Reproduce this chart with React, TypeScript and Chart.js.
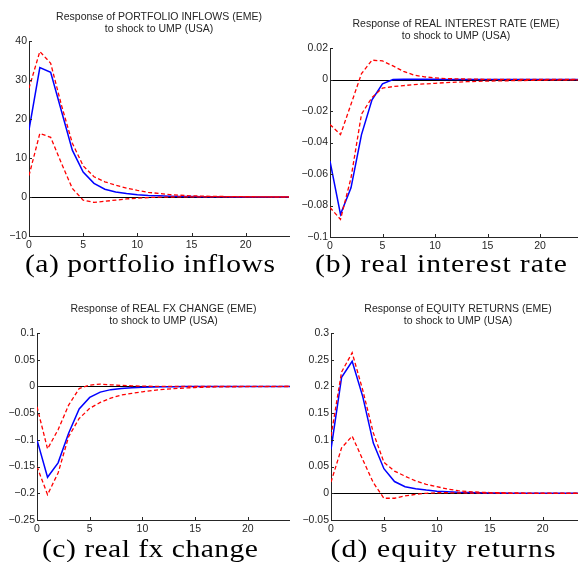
import { useEffect, useRef } from "react";
import { Chart, registerables } from "chart.js";

Chart.register(...registerables);

// Impulse-response horizon (periods after the shock)
const HORIZON = [0, 1, 2, 3, 4, 5, 6, 7, 8, 9, 10, 11, 12, 13, 14, 15, 16, 17, 18, 19, 20, 21, 22, 23, 24];
const X_TICKS = [0, 5, 10, 15, 20];

// (a) portfolio inflows
const INFLOWS_IRF = [17.2, 33.2, 32.0, 22.0, 12.0, 6.4, 3.5, 2.0, 1.3, 0.9, 0.6, 0.4, 0.3, 0.2, 0.15, 0.1, 0.07, 0.05, 0.04, 0.03, 0.02, 0.02, 0.01, 0.01, 0.01];
const INFLOWS_UPPER = [27.9, 37.3, 34.3, 23.5, 13.8, 8.0, 5.2, 3.9, 3.0, 2.3, 1.7, 1.2, 0.9, 0.6, 0.45, 0.3, 0.22, 0.16, 0.12, 0.09, 0.07, 0.05, 0.04, 0.03, 0.02];
const INFLOWS_LOWER = [5.5, 16.3, 15.3, 8.6, 2.2, -0.8, -1.4, -1.1, -0.8, -0.5, -0.3, -0.15, -0.05, 0, 0.02, 0.03, 0.03, 0.03, 0.02, 0.02, 0.01, 0.01, 0.01, 0, 0];
const INFLOWS_Y_TICKS = [-10, 0, 10, 20, 30, 40];

// (b) real interest rate
const RATE_IRF = [-0.0518, -0.0856, -0.0688, -0.035, -0.0129, -0.0028, 0.0, 0.0002, 0.0002, 0.0001, 0.0001, 0, 0, 0, 0, 0, 0, 0, 0, 0, 0, 0, 0, 0, 0];
const RATE_UPPER = [-0.0286, -0.035, -0.0157, 0.0037, 0.0123, 0.0118, 0.0086, 0.0052, 0.0028, 0.0017, 0.001, 0.0006, 0.0004, 0.0003, 0.0002, 0.0001, 0.0001, 0.0001, 0, 0, 0, 0, 0, 0, 0];
const RATE_LOWER = [-0.0813, -0.0888, -0.0625, -0.022, -0.0114, -0.0054, -0.0045, -0.0039, -0.0032, -0.0028, -0.0024, -0.002, -0.0017, -0.0014, -0.0012, -0.001, -0.0009, -0.0008, -0.0007, -0.0006, -0.0005, -0.0004, -0.0004, -0.0003, -0.0003];
const RATE_Y_TICKS = [-0.1, -0.08, -0.06, -0.04, -0.02, 0, 0.02];

// (c) real fx change
const FX_IRF = [-0.1, -0.17, -0.143, -0.0876, -0.042, -0.0205, -0.0106, -0.006, -0.004, -0.0025, -0.0015, -0.001, -0.0006, -0.0004, -0.0003, -0.0002, -0.0001, 0, 0, 0, 0, 0, 0, 0, 0];
const FX_UPPER = [-0.038, -0.117, -0.081, -0.035, -0.004, 0.0025, 0.0043, 0.003, 0.002, 0.001, 0.0005, 0.0002, 0.0001, 0, 0, 0, 0, 0, 0, 0, 0, 0, 0, 0, 0];
const FX_LOWER = [-0.15, -0.2025, -0.162, -0.094, -0.06, -0.041, -0.03, -0.022, -0.016, -0.013, -0.01, -0.0075, -0.0055, -0.004, -0.003, -0.002, -0.0015, -0.001, -0.0008, -0.0006, -0.0004, -0.0003, -0.0002, -0.0002, -0.0001];
const FX_Y_TICKS = [-0.25, -0.2, -0.15, -0.1, -0.05, 0, 0.05, 0.1];

// (d) equity returns
const EQUITY_IRF = [0.082, 0.217, 0.247, 0.181, 0.094, 0.046, 0.022, 0.0124, 0.0087, 0.006, 0.004, 0.003, 0.002, 0.0015, 0.001, 0.0007, 0.0005, 0.0003, 0.0002, 0.0002, 0.0001, 0.0001, 0.0001, 0, 0];
const EQUITY_UPPER = [0.107, 0.227, 0.263, 0.193, 0.113, 0.058, 0.0415, 0.032, 0.023, 0.0167, 0.0124, 0.008, 0.005, 0.003, 0.002, 0.0014, 0.001, 0.0007, 0.0005, 0.0003, 0.0002, 0.0002, 0.0001, 0.0001, 0.0001];
const EQUITY_LOWER = [0.021, 0.085, 0.107, 0.063, 0.0198, -0.0093, -0.0093, -0.005, -0.002, 0, 0.001, 0.001, 0.0008, 0.0005, 0.0003, 0.0002, 0.0001, 0, 0, 0, 0, 0, 0, 0, 0];
const EQUITY_Y_TICKS = [-0.05, 0, 0.05, 0.1, 0.15, 0.2, 0.25, 0.3];

type Box = { left: number; top: number; width: number; height: number };
type Area = { l: number; t: number; r: number; b: number };

type PanelSpec = {
  title: string[];
  caption: string;
  captionX: number;
  captionBaseline: number;
  captionWidth: number;
  box: Box;
  area: Area;
  irf: number[];
  upper: number[];
  lower: number[];
  yTicks: number[];
};

const PANELS: PanelSpec[] = [
  {
    title: ["Response of PORTFOLIO INFLOWS (EME)", "to shock to UMP (USA)"],
    caption: "(a) portfolio inflows",
    captionX: 150,
    captionBaseline: 272,
    captionWidth: 250,
    box: { left: 0, top: 0, width: 290, height: 290 },
    area: { l: 29, t: 41, r: 289, b: 236 },
    irf: INFLOWS_IRF,
    upper: INFLOWS_UPPER,
    lower: INFLOWS_LOWER,
    yTicks: INFLOWS_Y_TICKS,
  },
  {
    title: ["Response of REAL INTEREST RATE (EME)", "to shock to UMP (USA)"],
    caption: "(b) real interest rate",
    captionX: 441,
    captionBaseline: 272,
    captionWidth: 252,
    box: { left: 290, top: 0, width: 294, height: 290 },
    area: { l: 330, t: 48, r: 582, b: 237 },
    irf: RATE_IRF,
    upper: RATE_UPPER,
    lower: RATE_LOWER,
    yTicks: RATE_Y_TICKS,
  },
  {
    title: ["Response of REAL FX CHANGE (EME)", "to shock to UMP (USA)"],
    caption: "(c) real fx change",
    captionX: 150,
    captionBaseline: 557,
    captionWidth: 216,
    box: { left: 0, top: 290, width: 290, height: 272 },
    area: { l: 37, t: 333, r: 290, b: 520 },
    irf: FX_IRF,
    upper: FX_UPPER,
    lower: FX_LOWER,
    yTicks: FX_Y_TICKS,
  },
  {
    title: ["Response of EQUITY RETURNS (EME)", "to shock to UMP (USA)"],
    caption: "(d) equity returns",
    captionX: 443,
    captionBaseline: 557,
    captionWidth: 225,
    box: { left: 290, top: 290, width: 296, height: 272 },
    area: { l: 331, t: 333, r: 585, b: 520 },
    irf: EQUITY_IRF,
    upper: EQUITY_UPPER,
    lower: EQUITY_LOWER,
    yTicks: EQUITY_Y_TICKS,
  },
];

const SANS = '"Liberation Sans", Arial, Helvetica, sans-serif';
const SERIF = '"Liberation Serif", "Times New Roman", serif';
const INK = "#262626";

const fmtTick = (v: number) => {
  const s = String(Number(v.toFixed(4)));
  return s.startsWith("-") ? "\u2212" + s.slice(1) : s;
};

// Zero reference line, inward tick marks, two-line heading and the sub-figure caption
function decorations(p: PanelSpec) {
  return {
    id: "irfDecor",
    beforeDatasetsDraw(chart: Chart) {
      const { ctx, chartArea } = chart;
      const y0 = chart.scales.y.getPixelForValue(0);
      ctx.save();
      ctx.strokeStyle = "#000";
      ctx.lineWidth = 1;
      ctx.beginPath();
      ctx.moveTo(chartArea.left, Math.round(y0) + 0.5);
      ctx.lineTo(chartArea.right, Math.round(y0) + 0.5);
      ctx.stroke();
      ctx.restore();
    },
    afterDraw(chart: Chart) {
      const { ctx, chartArea } = chart;
      const xs = chart.scales.x;
      const ys = chart.scales.y;
      ctx.save();
      ctx.strokeStyle = INK;
      ctx.lineWidth = 1;
      ctx.beginPath();
      for (const v of p.yTicks) {
        const y = Math.round(ys.getPixelForValue(v)) + 0.5;
        ctx.moveTo(chartArea.left, y);
        ctx.lineTo(chartArea.left + 3, y);
      }
      for (const v of X_TICKS) {
        const x = Math.round(xs.getPixelForValue(v)) + 0.5;
        ctx.moveTo(x, chartArea.bottom);
        ctx.lineTo(x, chartArea.bottom - 3);
      }
      ctx.stroke();

      const cx = (chartArea.left + chartArea.right) / 2;
      ctx.fillStyle = INK;
      ctx.font = `10.5px ${SANS}`;
      ctx.textAlign = "center";
      ctx.textBaseline = "middle";
      ctx.fillText(p.title[0], cx, chartArea.top - 23.5);
      ctx.fillText(p.title[1], cx, chartArea.top - 11.5);

      // Caption: widen the glyphs somewhat, then make up the rest with spacing
      ctx.fillStyle = "#000";
      ctx.font = `26px ${SERIF}`;
      ctx.textAlign = "left";
      ctx.textBaseline = "alphabetic";
      const natural = ctx.measureText(p.caption).width;
      const sx = Math.min(p.captionWidth / natural, 1.14);
      const spacing = (p.captionWidth / sx - natural) / (p.caption.length - 1);
      (ctx as any).letterSpacing = `${spacing}px`;
      ctx.translate(p.captionX - p.captionWidth / 2 - p.box.left, p.captionBaseline - p.box.top);
      ctx.scale(sx, 1);
      ctx.fillText(p.caption, 0, 0);
      ctx.restore();
    },
  };
}

function IrfPanel({ p }: { p: PanelSpec }) {
  const ref = useRef<HTMLCanvasElement>(null);

  useEffect(() => {
    const canvas = ref.current;
    if (!canvas) return;
    const pts = (vals: number[]) => vals.map((v, i) => ({ x: HORIZON[i], y: v }));
    const dashed = {
      borderColor: "#ff0000",
      borderWidth: 1.3,
      borderDash: [4, 2.5],
      pointRadius: 0,
      tension: 0,
    };
    const yWidth = p.area.l - p.box.left;
    const xHeight = p.box.top + p.box.height - p.area.b;

    const chart = new Chart(canvas, {
      type: "line",
      data: {
        datasets: [
          { label: "upper", data: pts(p.upper), ...dashed },
          { label: "lower", data: pts(p.lower), ...dashed },
          {
            label: "response",
            data: pts(p.irf),
            borderColor: "#0000ff",
            borderWidth: 1.5,
            pointRadius: 0,
            tension: 0,
          },
        ],
      },
      options: {
        responsive: false,
        animation: false,
        devicePixelRatio: 1,
        layout: {
          padding: {
            left: 0,
            bottom: 0,
            top: p.area.t - p.box.top,
            right: p.box.left + p.box.width - p.area.r,
          },
        },
        plugins: {
          legend: { display: false },
          tooltip: { enabled: false },
          title: { display: false },
        },
        scales: {
          x: {
            type: "linear",
            min: 0,
            max: 24,
            grid: { display: false, drawTicks: false },
            border: { display: true, color: INK, width: 1 },
            ticks: {
              color: INK,
              font: { family: SANS, size: 10.5 },
              padding: 3,
              maxRotation: 0,
              callback: (v: any) => fmtTick(Number(v)),
            },
            afterBuildTicks: (scale: any) => {
              scale.ticks = X_TICKS.map((v) => ({ value: v }));
            },
            afterFit: (scale: any) => {
              scale.height = xHeight;
            },
          },
          y: {
            type: "linear",
            min: p.yTicks[0],
            max: p.yTicks[p.yTicks.length - 1],
            grid: { display: false, drawTicks: false },
            border: { display: true, color: INK, width: 1 },
            ticks: {
              color: INK,
              font: { family: SANS, size: 10.5 },
              padding: 2,
              callback: (v: any) => fmtTick(Number(v)),
            },
            afterBuildTicks: (scale: any) => {
              scale.ticks = p.yTicks.map((v) => ({ value: v }));
            },
            afterFit: (scale: any) => {
              scale.width = yWidth;
            },
          },
        },
      },
      plugins: [decorations(p)],
    });
    return () => chart.destroy();
  }, [p]);

  return (
    <div
      style={{
        position: "absolute",
        left: p.box.left,
        top: p.box.top,
        width: p.box.width,
        height: p.box.height,
      }}
    >
      <canvas
        ref={ref}
        width={p.box.width}
        height={p.box.height}
        style={{ display: "block", width: p.box.width, height: p.box.height }}
      />
    </div>
  );
}

export default function App() {
  return (
    <div
      style={{
        position: "fixed",
        left: 0,
        top: 0,
        width: 578,
        height: 562,
        overflow: "hidden",
        background: "#ffffff",
      }}
    >
      {PANELS.map((p) => (
        <IrfPanel key={p.caption} p={p} />
      ))}
    </div>
  );
}
